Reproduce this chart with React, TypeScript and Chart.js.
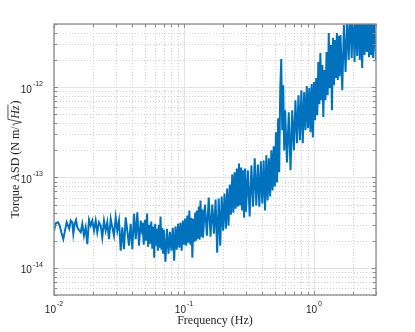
import { useEffect, useRef } from 'react';
import { Chart, registerables } from 'chart.js';

Chart.register(...registerables);

const W = 415;
const H = 332;

// ---- data: frequency (Hz) and torque ASD (in units of 1e-14 N m/sqrt(Hz)) ----
const freqLow = [0.01, 0.01031, 0.01073, 0.01106, 0.01138, 0.01179, 0.01215, 0.01252, 0.01281, 0.01311,
  0.01345, 0.01383, 0.01408, 0.01443, 0.01477, 0.01511, 0.01557, 0.01605, 0.01651, 0.01701,
  0.01753, 0.01804, 0.01859, 0.01916, 0.01971, 0.02031, 0.02093, 0.02153, 0.02219, 0.02287,
  0.02352, 0.02424, 0.02498, 0.0257, 0.02649, 0.02731, 0.02809, 0.02894, 0.02983, 0.03069,
  0.03162, 0.0326, 0.03353, 0.03455, 0.0356, 0.03663, 0.03775, 0.0389, 0.04004, 0.04125,
  0.04251, 0.04373, 0.04507, 0.04645, 0.04778];
const asdLow = [2.58, 3.11, 3.19, 2.93, 2.47, 2.08, 2.58, 3.19, 2.93, 2.71,
  3.33, 3.19, 2.39, 3.08, 3.39, 2.80, 2.62, 2.47, 3.06, 2.27,
  2.80, 1.83, 3.39, 2.93, 3.33, 2.58, 3.33, 2.47, 3.19, 2.93,
  2.17, 3.33, 2.58, 3.19, 2.08, 3.48, 2.80, 2.27, 3.62, 2.58,
  3.33, 1.55, 2.80, 1.61, 3.62, 2.58, 1.76, 3.06, 1.61, 3.95,
  2.08, 4.12, 1.76, 3.33, 2.39];

const freqBand1 = [0.048, 0.049, 0.050, 0.051, 0.052, 0.053, 0.054, 0.055, 0.056, 0.057, 0.058, 0.059,
  0.060, 0.061, 0.062, 0.063, 0.064, 0.065, 0.066, 0.067, 0.068, 0.069, 0.070];
const asdBand1 = [3.16, 1.80, 3.41, 2.0, 3.98, 1.71, 3.0, 1.85, 3.25, 1.63, 2.86, 1.29,
  3.08, 1.76, 2.71, 1.55, 3.0, 1.67, 3.69, 1.59, 2.78, 1.47, 2.64];

const freqBand2 = [0.072, 0.074, 0.076, 0.078, 0.080, 0.082, 0.084, 0.086, 0.088, 0.090, 0.092, 0.094,
  0.096, 0.098, 0.100, 0.102, 0.104, 0.106, 0.108, 0.110, 0.112, 0.114, 0.116, 0.118, 0.120, 0.122,
  0.124, 0.126, 0.128, 0.130, 0.132, 0.134, 0.136, 0.138, 0.140];
const asdBand2 = [1.17, 2.71, 1.43, 2.51, 1.55, 2.78, 1.20, 2.86, 1.59, 3.08, 1.67, 3.16,
  1.55, 3.33, 1.80, 3.5, 1.76, 3.78, 1.90, 4.30, 1.80, 3.59, 1.29, 3.5, 1.95, 4.08,
  2.0, 4.30, 2.10, 4.76, 2.05, 5.55, 2.21, 4.41, 2.15];

const freqBand3 = [0.145, 0.150, 0.155, 0.160, 0.165, 0.170, 0.175, 0.180, 0.185, 0.190, 0.195, 0.200,
  0.205, 0.210, 0.215, 0.220, 0.225, 0.230, 0.235, 0.240, 0.245, 0.250, 0.255, 0.260, 0.265, 0.270,
  0.275, 0.280, 0.285, 0.290, 0.295, 0.300];
const asdBand3 = [5.01, 2.27, 6.0, 2.21, 5.01, 2.39, 5.69, 1.47, 5.84, 1.76, 6.15, 2.58,
  6.64, 2.71, 7.55, 2.93, 8.36, 3.88, 10.8, 4.08, 11.4, 4.52, 12.6, 4.76, 14.3, 4.89,
  12.9, 4.30, 12.0, 3.59, 12.6, 4.19];

const freqBand4 = [0.31, 0.32, 0.33, 0.34, 0.35, 0.36, 0.37, 0.38, 0.39, 0.40, 0.41, 0.42, 0.43, 0.44,
  0.45, 0.46, 0.47, 0.48, 0.49, 0.50, 0.51, 0.52, 0.53, 0.54, 0.55, 0.56, 0.57, 0.58, 0.59, 0.60];
const asdBand4 = [12.0, 3.69, 13.6, 4.76, 16.3, 4.89, 13.9, 4.76, 15.1, 5.14, 15.45, 4.30, 17.6, 5.55,
  16.3, 6.15, 19.95, 7.17, 22.1, 7.94, 31.6, 8.80, 45.2, 11.4, 92.6, 205, 33.3, 105, 19.95, 55.5];

const freqBand5 = [0.62, 0.64, 0.66, 0.68, 0.70, 0.72, 0.74, 0.76, 0.78, 0.80, 0.82, 0.84, 0.86, 0.88,
  0.90, 0.92, 0.94, 0.96, 0.98, 1.00, 1.02, 1.04, 1.06, 1.08, 1.10, 1.12, 1.14, 1.16, 1.18, 1.20];
const asdBand5 = [14.7, 52.7, 12.0, 55.5, 19.95, 71.7, 23.9, 81.5, 25.8, 92.6, 23.9, 88.0, 33.3, 102.6,
  35.0, 97.5, 31.6, 108, 27.8, 113.6, 43.0, 125.9, 48.9, 189.6, 64.7, 239, 71.7, 175.6, 46.4, 154.5];

const freqBand6 = [1.225, 1.25, 1.275, 1.30, 1.325, 1.35, 1.375, 1.40, 1.425, 1.45, 1.475, 1.50,
  1.525, 1.55, 1.575, 1.60];
const asdBand6 = [71.7, 245, 81.5, 398, 97.5, 293, 55.5, 350, 105, 333, 126, 398,
  120, 369, 132, 378];

const freqBand7 = [1.65, 1.70, 1.75, 1.80, 1.85, 1.90, 1.95, 2.00, 2.05, 2.10, 2.15, 2.20, 2.25, 2.30,
  2.35, 2.40, 2.45, 2.50, 2.55, 2.60, 2.65, 2.70, 2.75, 2.80, 2.85, 2.90, 2.95, 3.00];
const asdBand7 = [92.6, 489, 146.8, 555, 200, 717, 210, 815, 189.6, 631, 221, 755, 200, 584,
  162.6, 815, 227, 681, 245, 755, 215, 631, 227, 717, 210, 700, 330, 200];

const ASD_UNIT = 1e-14;

const xMajorTicks = [0.01, 0.1, 1];
const yMajorTicks = [1e-14, 1e-13, 1e-12];
const minorMantissas = [2, 3, 4, 5, 6, 7, 8, 9];

const X_MIN = 0.01;
const X_MAX = 3;
const Y_MIN = 5e-15;
const Y_MAX = 5e-12;

const xTitle = 'Frequency (Hz)';
const yTitleMain = 'Torque ASD (N m/';
const yTitleRoot = 'Hz';
const yTitleEnd = ')';

const LINE_COLOR = '#0072BD';
const AXIS_COLOR = '#8a8a8a';
const TEXT_COLOR = '#262626';
const MAJOR_GRID = '#e3e3e3';
const MINOR_GRID = '#d2d2d2';
const SANS = '"Liberation Sans", Arial, Helvetica, sans-serif';
const SERIF = '"Liberation Serif", "Times New Roman", serif';

function buildPoints() {
  const segs: [number[], number[]][] = [
    [freqLow, asdLow], [freqBand1, asdBand1], [freqBand2, asdBand2], [freqBand3, asdBand3],
    [freqBand4, asdBand4], [freqBand5, asdBand5], [freqBand6, asdBand6], [freqBand7, asdBand7],
  ];
  const pts: { x: number; y: number }[] = [];
  for (const [f, a] of segs) {
    const n = Math.min(f.length, a.length);
    for (let i = 0; i < n; i++) pts.push({ x: f[i], y: a[i] * ASD_UNIT });
  }
  return pts;
}

function minorValues(majors: number[], lo: number, hi: number) {
  const out: number[] = [];
  const first = Math.floor(Math.log10(lo)) - 1;
  const last = Math.ceil(Math.log10(hi));
  for (let d = first; d <= last; d++) {
    for (const m of minorMantissas) {
      const v = m * Math.pow(10, d);
      if (v >= lo * 0.9999 && v <= hi * 1.0001) out.push(v);
    }
  }
  return out.filter((v) => !majors.some((mj) => Math.abs(v / mj - 1) < 1e-6));
}

function drawPow(ctx: CanvasRenderingContext2D, exp: number, x: number, baseY: number, align: 'center' | 'right') {
  const base = '10';
  const sup = String(exp);
  ctx.font = `10px ${SANS}`;
  const wb = ctx.measureText(base).width;
  ctx.font = `7px ${SANS}`;
  const ws = ctx.measureText(sup).width;
  const gap = 1;
  const total = wb + gap + ws;
  const x0 = align === 'center' ? x - total / 2 : x - total;
  ctx.textAlign = 'left';
  ctx.textBaseline = 'alphabetic';
  ctx.font = `10px ${SANS}`;
  ctx.fillText(base, x0, baseY);
  ctx.font = `7px ${SANS}`;
  ctx.fillText(sup, x0 + wb + gap, baseY - 6.5);
}

const axesPlugin = {
  id: 'matlabAxes',
  beforeDatasetsDraw(chart: any) {
    const { ctx, chartArea: a, scales } = chart;
    const xs = scales.x;
    const ys = scales.y;
    ctx.save();
    ctx.lineWidth = 1;
    ctx.setLineDash([1, 2]);
    ctx.strokeStyle = MINOR_GRID;
    for (const v of minorValues(xMajorTicks, X_MIN, X_MAX)) {
      const px = Math.round(xs.getPixelForValue(v)) + 0.5;
      ctx.beginPath(); ctx.moveTo(px, a.top); ctx.lineTo(px, a.bottom); ctx.stroke();
    }
    for (const v of minorValues(yMajorTicks, Y_MIN, Y_MAX)) {
      const py = Math.round(ys.getPixelForValue(v)) + 0.5;
      ctx.beginPath(); ctx.moveTo(a.left, py); ctx.lineTo(a.right, py); ctx.stroke();
    }
    ctx.setLineDash([]);
    ctx.strokeStyle = MAJOR_GRID;
    for (const v of xMajorTicks) {
      const px = Math.round(xs.getPixelForValue(v)) + 0.5;
      ctx.beginPath(); ctx.moveTo(px, a.top); ctx.lineTo(px, a.bottom); ctx.stroke();
    }
    for (const v of yMajorTicks) {
      const py = Math.round(ys.getPixelForValue(v)) + 0.5;
      ctx.beginPath(); ctx.moveTo(a.left, py); ctx.lineTo(a.right, py); ctx.stroke();
    }
    ctx.restore();
  },
  afterDatasetsDraw(chart: any) {
    const { ctx, chartArea: a, scales } = chart;
    const xs = scales.x;
    const ys = scales.y;
    ctx.save();
    ctx.strokeStyle = AXIS_COLOR;
    ctx.lineWidth = 1.3;
    ctx.strokeRect(a.left, a.top, a.right - a.left, a.bottom - a.top);
    ctx.lineWidth = 1;
    const tick = (v: number, len: number, horiz: boolean) => {
      if (horiz) {
        const px = Math.round(xs.getPixelForValue(v)) + 0.5;
        ctx.beginPath();
        ctx.moveTo(px, a.bottom); ctx.lineTo(px, a.bottom - len);
        ctx.moveTo(px, a.top); ctx.lineTo(px, a.top + len);
        ctx.stroke();
      } else {
        const py = Math.round(ys.getPixelForValue(v)) + 0.5;
        ctx.beginPath();
        ctx.moveTo(a.left, py); ctx.lineTo(a.left + len, py);
        ctx.moveTo(a.right, py); ctx.lineTo(a.right - len, py);
        ctx.stroke();
      }
    };
    for (const v of xMajorTicks) tick(v, 4, true);
    for (const v of minorValues(xMajorTicks, X_MIN, X_MAX)) tick(v, 3, true);
    for (const v of yMajorTicks) tick(v, 4, false);
    for (const v of minorValues(yMajorTicks, Y_MIN, Y_MAX)) tick(v, 3, false);

    ctx.fillStyle = TEXT_COLOR;
    for (const v of xMajorTicks) {
      drawPow(ctx, Math.round(Math.log10(v)), xs.getPixelForValue(v), a.bottom + 17.5, 'center');
    }
    for (const v of yMajorTicks) {
      drawPow(ctx, Math.round(Math.log10(v)), a.left - 11, ys.getPixelForValue(v) + 5.5, 'right');
    }

    ctx.font = `12px ${SERIF}`;
    ctx.textAlign = 'center';
    ctx.textBaseline = 'alphabetic';
    ctx.fillText(xTitle, (a.left + a.right) / 2, a.bottom + 29);

    const fs = 12;
    const regular = `${fs}px ${SERIF}`;
    const italic = `italic ${fs}px ${SERIF}`;
    ctx.font = regular;
    const w1 = ctx.measureText(yTitleMain).width;
    const w3 = ctx.measureText(yTitleEnd).width;
    ctx.font = italic;
    const w2 = ctx.measureText(yTitleRoot).width;
    const rootW = 0.62 * fs;
    const total = w1 + rootW + w2 + 1 + w3;
    ctx.translate(19, (a.top + a.bottom) / 2);
    ctx.rotate(-Math.PI / 2);
    let cx = -total / 2;
    ctx.textAlign = 'left';
    ctx.font = regular;
    ctx.fillText(yTitleMain, cx, 0);
    cx += w1;
    ctx.strokeStyle = TEXT_COLOR;
    ctx.lineWidth = 0.8;
    ctx.beginPath();
    ctx.moveTo(cx + 0.05 * fs, -0.42 * fs);
    ctx.lineTo(cx + 0.16 * fs, -0.5 * fs);
    ctx.lineTo(cx + 0.34 * fs, 0.2 * fs);
    ctx.lineTo(cx + 0.58 * fs, -0.92 * fs);
    ctx.lineTo(cx + rootW + w2 + 1, -0.92 * fs);
    ctx.stroke();
    cx += rootW;
    ctx.font = italic;
    ctx.fillText(yTitleRoot, cx, 0);
    cx += w2 + 1;
    ctx.font = regular;
    ctx.fillText(yTitleEnd, cx, 0);
    ctx.restore();
  },
};

export default function App() {
  const ref = useRef<HTMLCanvasElement>(null);
  useEffect(() => {
    const canvas = ref.current;
    if (!canvas) return;
    const chart = new Chart(canvas, {
      type: 'line',
      data: {
        datasets: [
          {
            data: buildPoints(),
            borderColor: LINE_COLOR,
            borderWidth: 2,
            pointRadius: 0,
            tension: 0,
            fill: false,
            borderJoinStyle: 'miter',
          },
        ],
      },
      options: {
        animation: false,
        responsive: false,
        devicePixelRatio: 1,
        layout: { padding: { left: 54, top: 24, right: 39, bottom: 37 } },
        plugins: { legend: { display: false }, tooltip: { enabled: false } },
        events: [],
        scales: {
          x: { type: 'logarithmic', min: X_MIN, max: X_MAX, display: false },
          y: { type: 'logarithmic', min: Y_MIN, max: Y_MAX, display: false },
        },
      },
      plugins: [axesPlugin],
    } as any);
    return () => chart.destroy();
  }, []);
  return (
    <div style={{ position: 'absolute', left: 0, top: 0, width: W, height: H, background: '#fff' }}>
      <canvas ref={ref} width={W} height={H} style={{ display: 'block', width: W, height: H }} />
    </div>
  );
}
